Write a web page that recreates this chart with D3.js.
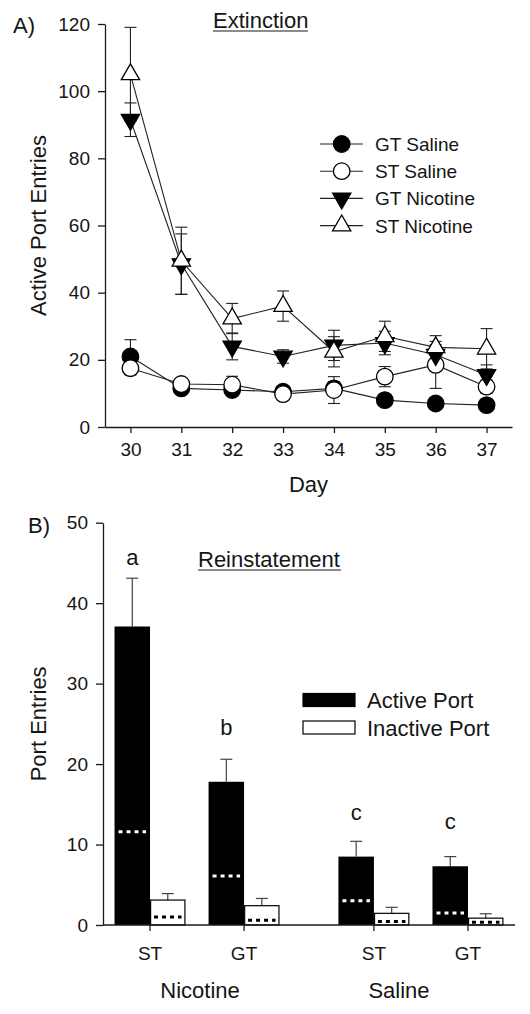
<!DOCTYPE html>
<html><head><meta charset="utf-8">
<script src="https://cdn.jsdelivr.net/npm/d3@7"></script>
<style>
body{margin:0;background:#fff}
svg{display:block}
text{font-family:"Liberation Sans",Arial,Helvetica,sans-serif;fill:#151515}
</style>
</head><body>
<svg id="chart" width="530" height="1014"></svg>
<script>
// ---------- Panel A data (Extinction) ----------
const days = [30, 31, 32, 33, 34, 35, 36, 37];
const seriesNames = ["GT Saline", "ST Saline", "GT Nicotine", "ST Nicotine"];
const gtSaline      = [21.0, 11.5, 11.0, 10.5, 11.5, 8.0, 7.0, 6.5];
const gtSalineErr   = [5.0, 1.5, 1.5, 1.0, 2.0, 1.0, 1.0, 1.0];
const stSaline      = [17.5, 12.8, 12.6, 9.8, 11.0, 15.0, 18.5, 12.0];
const stSalineErr   = [2.0, 1.5, 2.5, 1.5, 4.0, 3.0, 7.0, 2.0];
const gtNicotine    = [91.5, 48.5, 24.0, 21.0, 24.3, 25.0, 21.5, 15.5];
const gtNicotineErr = [5.0, 9.0, 4.0, 2.0, 4.5, 3.5, 3.0, 3.0];
const stNicotine    = [105.0, 49.5, 32.3, 36.0, 22.4, 27.0, 23.7, 23.3];
const stNicotineErr = [14.0, 10.0, 4.5, 4.5, 4.5, 4.5, 3.5, 6.0];
const yTicksA = [0, 20, 40, 60, 80, 100, 120];

// ---------- Panel B data (Reinstatement) ----------
const drugGroups = ["Nicotine", "Saline"];
const phenotypes = ["ST", "GT"];
const activeMean   = [37.1, 17.8, 8.5, 7.3];   // order: Nic-ST, Nic-GT, Sal-ST, Sal-GT
const activeErr    = [6.0, 2.8, 1.9, 1.2];
const inactiveMean = [3.1, 2.4, 1.45, 0.85];
const inactiveErr  = [0.8, 0.9, 0.75, 0.55];
const activeRef    = [11.6, 6.1, 3.0, 1.5];    // dotted reference lines
const inactiveRef  = [1.0, 0.6, 0.45, 0.35];
const sigLetters   = ["a", "b", "c", "c"];
const sigLetterAt  = [44.7, 23.6, 13.1, 11.9];
const yTicksB = [0, 10, 20, 30, 40, 50];

const svg = d3.select("#chart");
const ink = "#1a1a1a";

// ================= Panel A =================
const xA = d3.scaleLinear().domain([29.5, 37.5]).range([105, 512]);
const yA = d3.scaleLinear().domain([0, 120]).range([427, 24]);
const gA = svg.append("g");

const axA_y = gA.append("g").attr("transform", `translate(${xA.range()[0]},0)`)
  .call(d3.axisLeft(yA).tickValues(yTicksA).tickSize(7).tickSizeOuter(0).tickPadding(8));
const axA_x = gA.append("g").attr("transform", `translate(0,${yA(0)})`)
  .call(d3.axisBottom(xA).tickValues(days).tickFormat(d3.format("d")).tickSize(6).tickSizeOuter(0).tickPadding(10));
[axA_y, axA_x].forEach(a => {
  a.selectAll("path,line").attr("stroke", ink).attr("stroke-width", 1.3);
  a.selectAll("text").style("font-size", "19px").attr("fill", ink);
});

const series = [
  {name: seriesNames[0], v: gtSaline,   e: gtSalineErr,   sym: d3.symbolCircle,   size: 215, fill: "#000", rot: 0},
  {name: seriesNames[1], v: stSaline,   e: stSalineErr,   sym: d3.symbolCircle,   size: 215, fill: "#fff", rot: 0},
  {name: seriesNames[2], v: gtNicotine, e: gtNicotineErr, sym: d3.symbolTriangle, size: 145, fill: "#000", rot: 180},
  {name: seriesNames[3], v: stNicotine, e: stNicotineErr, sym: d3.symbolTriangle, size: 145, fill: "#fff", rot: 0}
];

const line = d3.line().x((d, i) => xA(days[i])).y(d => yA(d));
// lines
series.forEach(s => {
  gA.append("path").attr("d", line(s.v)).attr("fill", "none")
    .attr("stroke", "#222").attr("stroke-width", 1.1);
});
// error bars
series.forEach(s => {
  const eg = gA.append("g").attr("stroke", "#222").attr("stroke-width", 1.1);
  s.v.forEach((v, i) => {
    const x = xA(days[i]);
    eg.append("line").attr("x1", x).attr("x2", x).attr("y1", yA(v - s.e[i])).attr("y2", yA(v + s.e[i]));
    [v - s.e[i], v + s.e[i]].forEach(c => {
      eg.append("line").attr("x1", x - 6).attr("x2", x + 6).attr("y1", yA(c)).attr("y2", yA(c));
    });
  });
});
// markers
series.forEach(s => {
  gA.append("g").selectAll("path").data(s.v).join("path")
    .attr("d", d3.symbol(s.sym, s.size))
    .attr("transform", (d, i) => `translate(${xA(days[i])},${yA(d)}) rotate(${s.rot})`)
    .attr("fill", s.fill).attr("stroke", "#000").attr("stroke-width", 1.3);
});

// Legend A
const legA = gA.append("g");
series.forEach((s, i) => {
  const y = 144 + i * 27.2;
  legA.append("line").attr("x1", 320).attr("x2", 363).attr("y1", y).attr("y2", y)
    .attr("stroke", "#222").attr("stroke-width", 1.1);
  legA.append("path").attr("d", d3.symbol(s.sym, s.size))
    .attr("transform", `translate(341.7,${y}) rotate(${s.rot})`)
    .attr("fill", s.fill).attr("stroke", "#000").attr("stroke-width", 1.3);
  legA.append("text").attr("x", 375).attr("y", y + 7).style("font-size", "19px").text(s.name);
});

// Titles A
gA.append("text").attr("x", 13).attr("y", 33).style("font-size", "22px").text("A)");
gA.append("text").attr("x", 213).attr("y", 28).style("font-size", "22px").text("Extinction");
gA.append("line").attr("x1", 213).attr("x2", 308).attr("y1", 31).attr("y2", 31).attr("stroke", ink).attr("stroke-width", 1.2);
gA.append("text").attr("transform", `translate(46,${(yA(0) + yA(120)) / 2}) rotate(-90)`)
  .attr("text-anchor", "middle").style("font-size", "22px").text("Active Port Entries");
gA.append("text").attr("x", (xA.range()[0] + xA.range()[1]) / 2).attr("y", 492)
  .attr("text-anchor", "middle").style("font-size", "22px").text("Day");

// ================= Panel B =================
const yB = d3.scaleLinear().domain([0, 50]).range([925, 522.7]);
const x0 = d3.scaleBand().domain(drugGroups).range([103, 515]).paddingInner(0.16).paddingOuter(0);
const x1 = d3.scaleBand().domain(phenotypes).range([0, x0.bandwidth()]).padding(0);
const barW = 35.5;
const gB = svg.append("g");

const cells = [];
drugGroups.forEach((g, gi) => phenotypes.forEach((p, pi) => {
  const k = gi * 2 + pi;
  cells.push({g, p, cx: x0(g) + x1(p) + x1.bandwidth() / 2,
    am: activeMean[k], ae: activeErr[k], im: inactiveMean[k], ie: inactiveErr[k],
    ar: activeRef[k], ir: inactiveRef[k], L: sigLetters[k], Ly: sigLetterAt[k]});
}));

// error bars (upward)
cells.forEach(c => {
  [[c.cx - barW / 2, c.am, c.ae], [c.cx + barW / 2, c.im, c.ie]].forEach(([x, m, e]) => {
    gB.append("line").attr("x1", x).attr("x2", x).attr("y1", yB(m)).attr("y2", yB(m + e))
      .attr("stroke", "#444").attr("stroke-width", 1.2);
    gB.append("line").attr("x1", x - 6).attr("x2", x + 6).attr("y1", yB(m + e)).attr("y2", yB(m + e))
      .attr("stroke", "#444").attr("stroke-width", 1.2);
  });
});
// bars
gB.append("g").selectAll("rect.a").data(cells).join("rect")
  .attr("x", d => d.cx - barW).attr("width", barW)
  .attr("y", d => yB(d.am)).attr("height", d => yB(0) - yB(d.am))
  .attr("fill", "#000");
gB.append("g").selectAll("rect.i").data(cells).join("rect")
  .attr("x", d => d.cx + 0.6).attr("width", barW - 1.2)
  .attr("y", d => yB(d.im)).attr("height", d => yB(0) - yB(d.im))
  .attr("fill", "#fff").attr("stroke", "#000").attr("stroke-width", 1.2);
// dotted reference lines
gB.append("g").selectAll("line").data(cells).join("line")
  .attr("x1", d => d.cx - barW + 4).attr("x2", d => d.cx - 4)
  .attr("y1", d => yB(d.ar)).attr("y2", d => yB(d.ar))
  .attr("stroke", "#fff").attr("stroke-width", 3).attr("stroke-dasharray", "4,4");
gB.append("g").selectAll("line").data(cells).join("line")
  .attr("x1", d => d.cx + 4).attr("x2", d => d.cx + barW - 4)
  .attr("y1", d => yB(d.ir)).attr("y2", d => yB(d.ir))
  .attr("stroke", "#000").attr("stroke-width", 3).attr("stroke-dasharray", "4,4");
// letters
gB.append("g").selectAll("text").data(cells).join("text")
  .attr("x", d => d.cx - barW / 2).attr("y", d => yB(d.Ly))
  .attr("text-anchor", "middle").style("font-size", "22px").text(d => d.L);

// axes B
const axB_y = gB.append("g").attr("transform", `translate(103,0)`)
  .call(d3.axisLeft(yB).tickValues(yTicksB).tickSize(7).tickSizeOuter(0).tickPadding(8));
axB_y.selectAll("path,line").attr("stroke", ink).attr("stroke-width", 1.3);
axB_y.selectAll("text").style("font-size", "19px").attr("fill", ink);
gB.append("line").attr("x1", 103).attr("x2", 515).attr("y1", yB(0)).attr("y2", yB(0))
  .attr("stroke", ink).attr("stroke-width", 1.3);
cells.forEach(c => {
  gB.append("line").attr("x1", c.cx).attr("x2", c.cx).attr("y1", yB(0)).attr("y2", yB(0) + 6)
    .attr("stroke", ink).attr("stroke-width", 1.3);
  gB.append("text").attr("x", c.cx).attr("y", 960).attr("text-anchor", "middle")
    .style("font-size", "19px").text(c.p);
});
// group labels: Nicotine centred under its group, Saline sits a little left of its group centre
const groupLabelShift = {Nicotine: 3, Saline: -22};
drugGroups.forEach(g => {
  gB.append("text").attr("x", x0(g) + x0.bandwidth() / 2 + groupLabelShift[g]).attr("y", 998).attr("text-anchor", "middle")
    .style("font-size", "22px").text(g);
});

// Titles B
gB.append("text").attr("x", 28).attr("y", 533).style("font-size", "22px").text("B)");
gB.append("text").attr("x", 198).attr("y", 567).style("font-size", "22px").text("Reinstatement");
gB.append("line").attr("x1", 198).attr("x2", 341).attr("y1", 570).attr("y2", 570).attr("stroke", ink).attr("stroke-width", 1.2);
gB.append("text").attr("transform", `translate(46,${(yB(0) + yB(50)) / 2}) rotate(-90)`)
  .attr("text-anchor", "middle").style("font-size", "22px").text("Port Entries");

// Legend B
const legB = [["Active Port", "#000"], ["Inactive Port", "#fff"]];
legB.forEach(([lab, col], i) => {
  const y = 700 + i * 27.5;
  gB.append("rect").attr("x", 303).attr("y", y - 6.5).attr("width", 52).attr("height", 13)
    .attr("fill", col).attr("stroke", "#000").attr("stroke-width", 1.2);
  gB.append("text").attr("x", 367).attr("y", y + 8).style("font-size", "22px").text(lab);
});
</script>
</body></html>
